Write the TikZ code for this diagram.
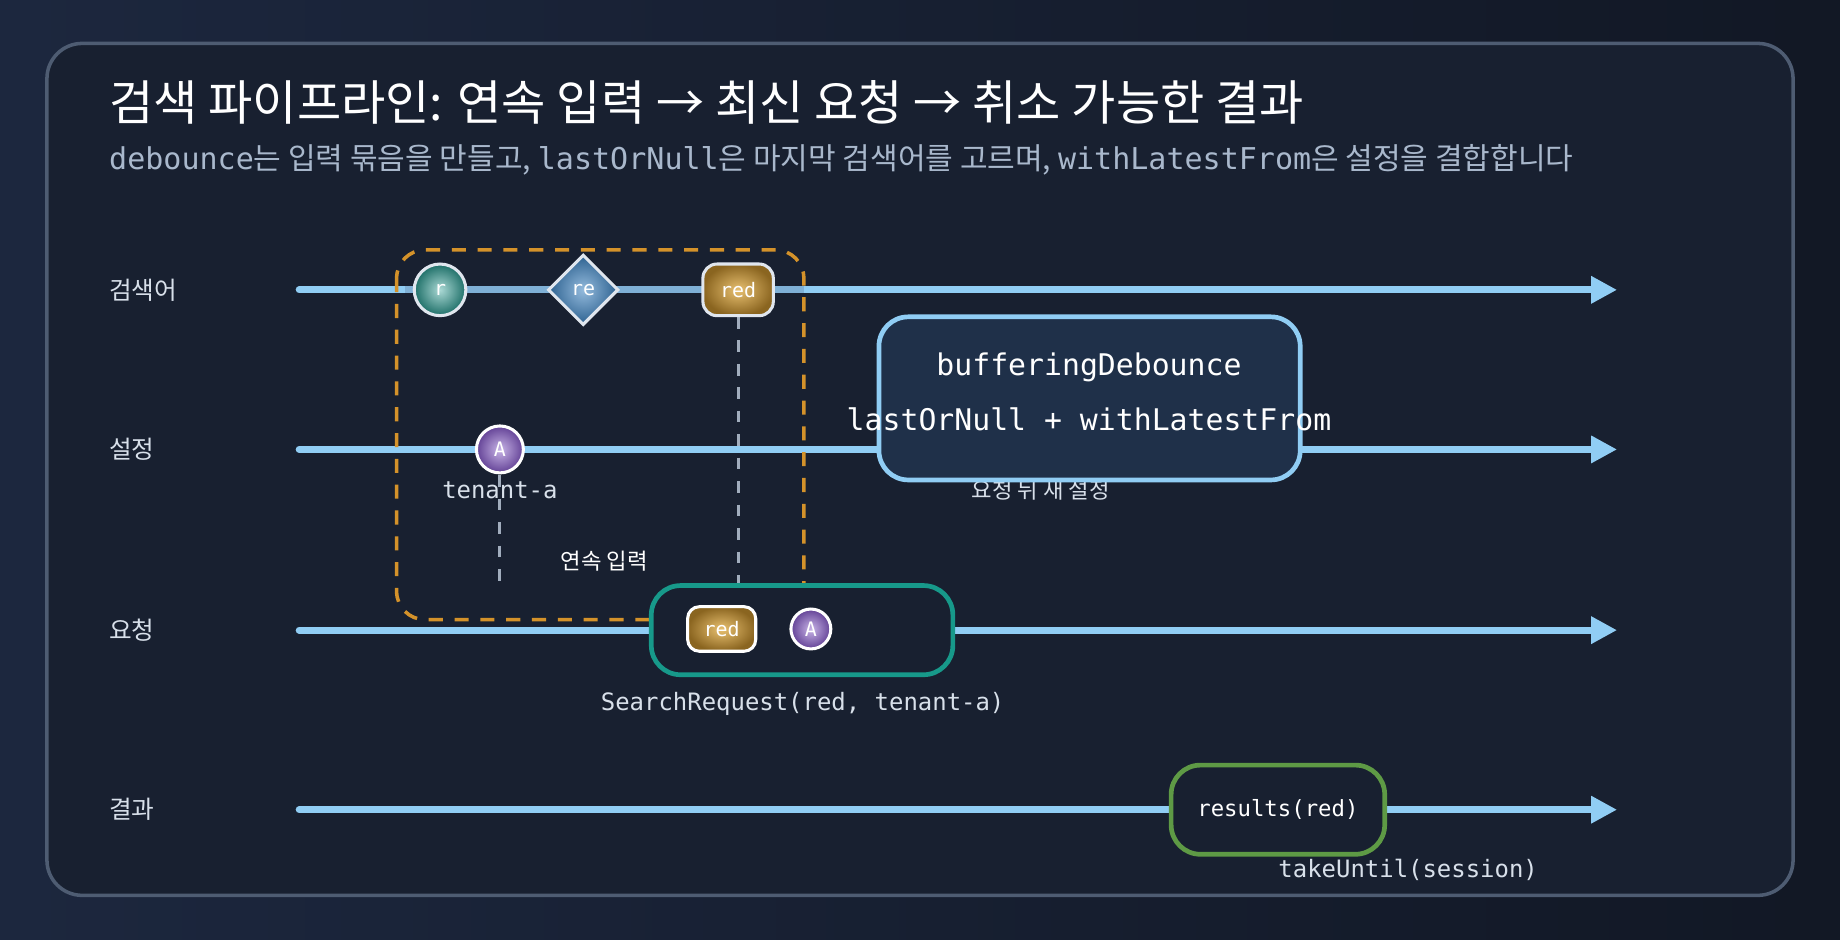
\documentclass[tikz,border=0pt]{standalone}
\usepackage{fontspec}
\setmainfont{Noto Sans CJK KR}
\setmonofont{DejaVu Sans Mono}
\newfontfamily\kr{Noto Sans CJK KR}
\usetikzlibrary{shapes.geometric,arrows.meta,fadings}
\definecolor{bgA}{HTML}{121825}
\definecolor{bgB}{HTML}{243250}
\definecolor{panel}{HTML}{182030}
\definecolor{panelE}{HTML}{4E5C72}
\definecolor{lane}{HTML}{90CDF4}
\definecolor{laneD}{HTML}{7FB0D6}
\definecolor{orng}{HTML}{D4922A}
\definecolor{sub}{HTML}{A9B8CC}
\definecolor{lbl}{HTML}{D8E0EA}
\definecolor{tealE}{HTML}{17998A}
\definecolor{grnE}{HTML}{5E9A45}
\definecolor{bufF}{HTML}{1F3049}
\definecolor{tealB}{HTML}{2A9E94}
\definecolor{blueB}{HTML}{3C82C0}
\definecolor{goldB}{HTML}{B8862A}
\definecolor{goldI}{HTML}{E8C070}
\definecolor{violB}{HTML}{8458C8}
\begin{document}
\begin{tikzpicture}[x=0.5pt,y=-0.5pt,
  lanel/.style={lane,line width=3pt,-{Triangle[length=11pt,width=11pt]},line cap=round},
  lab/.style={text=lbl,font=\kr\fontsize{10.5}{12}\selectfont,anchor=west},
  mono/.style={text=lbl,font=\ttfamily\fontsize{10.2}{12}\selectfont},
  mk/.style={draw=#1,line width=1.3pt,text=white,font=\ttfamily\fontsize{8.5}{10}\selectfont,inner sep=0pt},
  drop/.style={draw=sub!80!gray,line width=1.2pt,dash pattern=on 5pt off 5pt},
  box/.style={rounded corners=12.5pt,line width=2pt}]
\useasboundingbox (0,0) rectangle (1568,801);
\fill[bgA] (0,0) rectangle (1568,801);
\fill[bgB,opacity=0.6,path fading=east] (0,0) rectangle (1568,801);
\draw[panelE,fill=panel,line width=1.5pt,rounded corners=15pt] (40,37) rectangle (1528,763);
\node[anchor=west,text=white,font=\kr\fontsize{20.5}{24}\selectfont] (title) at (86,87) {검색 파이프라인: 연속 입력 → 최신 요청 → 취소 가능한 결과};
\node[anchor=west,text=sub,font=\kr\fontsize{12.8}{15}\selectfont] (subt) at (86,136) {\texttt{debounce}는 입력 묶음을 만들고, \texttt{lastOrNull}은 마지막 검색어를 고르며, \texttt{withLatestFrom}은 설정을 결합합니다};
% lanes
\node[lab] (l1) at (86,247) {검색어};
\node[lab] (l2) at (86,383) {설정};
\node[lab] (l3) at (86,537) {요청};
\node[lab] (l4) at (86,690) {결과};
\coordinate (s1) at (255,247); \coordinate (e1) at (1378,247);
\coordinate (s2) at (255,383); \coordinate (e2) at (1378,383);
\coordinate (s3) at (255,537); \coordinate (e3) at (1378,537);
\coordinate (s4) at (255,690); \coordinate (e4) at (1378,690);
\draw[lanel] (s1) -- (e1);
\draw[lanel] (s2) -- (e2);
\draw[lanel] (s3) -- (e3);
\draw[lanel] (s4) -- (e4);
\coordinate (d1) at (345,247); \coordinate (d2) at (685,247);
\draw[laneD,line width=3pt] (d1) -- (d2);
% dashed group
\draw[orng,line width=1.5pt,dash pattern=on 6pt off 5pt,rounded corners=12pt] (338,213) rectangle (685,528);
% drops
\coordinate (v1) at (629,270); \coordinate (v1b) at (629,497);
\coordinate (v2) at (426,405); \coordinate (v2b) at (426,500);
\draw[drop] (v1) -- (v1b);
\draw[drop] (v2) -- (v2b);
% markers
\node[mk=lbl!80,circle,minimum size=22pt,shading=radial,inner color=tealB!40!white,outer color=tealB!70!black] (r) at (375,247) {r};
\node[mk=lbl!80,diamond,minimum size=30pt,inner sep=0pt,shading=radial,inner color=blueB!55!white,outer color=blueB!75!black] (re) at (497,247) {re};
\node[mk=lbl!80,rounded corners=6pt,minimum width=30pt,minimum height=22pt,shading=radial,inner color=goldI,outer color=goldB!75!black] (red1) at (629,247) {red};
\node[mk=white,circle,minimum size=20pt,shading=radial,inner color=violB!45!white,outer color=violB!75!black] (a1) at (426,383) {A};
\node[mono] (ten) at (426,418) {tenant-a};
\node[text=white,font=\kr\fontsize{9.5}{11}\selectfont] (cont) at (515,478) {연속 입력};
\node[text=lbl,font=\kr\fontsize{9.5}{11}\selectfont] (newcfg) at (887,418) {요청 뒤 새 설정};
% operator box
\node[box,draw=lane,fill=bufF,minimum width=179.5pt,minimum height=69.5pt] (buf) at (928.5,339.5) {};
\node[text=white,font=\ttfamily\fontsize{12.7}{15}\selectfont] (bt1) at (928,313) {bufferingDebounce};
\node[text=white,font=\ttfamily\fontsize{12.7}{15}\selectfont] (bt2) at (928,357) {lastOrNull + withLatestFrom};
% request
\node[box,draw=tealE,fill=panel,minimum width=128.5pt,minimum height=38pt] (req) at (683.5,537) {};
\node[mk=white,rounded corners=5pt,minimum width=29pt,minimum height=19pt,shading=radial,inner color=goldI,outer color=goldB!75!black] (red2) at (615,536) {red};
\node[mk=white,circle,minimum size=17pt,shading=radial,inner color=violB!45!white,outer color=violB!75!black] (a2) at (691,536) {A};
\node[mono] (srq) at (684,600) {SearchRequest(red, tenant-a)};
% results
\node[box,draw=grnE,fill=panel,minimum width=91pt,minimum height=38pt] (res) at (1089,690) {};
\node[text=white,font=\ttfamily\fontsize{9.5}{11}\selectfont] (rest) at (1089,690) {results(red)};
\node[mono] (tu) at (1200,741) {takeUntil(session)};
\end{tikzpicture}
\end{document}
